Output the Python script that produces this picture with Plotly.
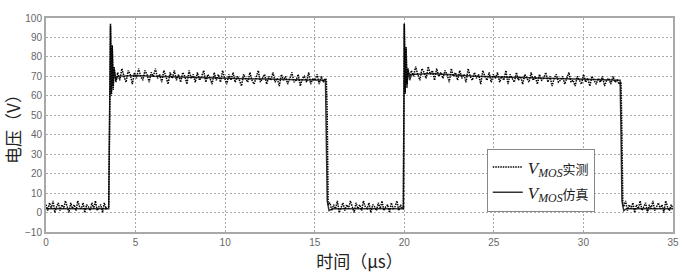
import numpy as np
import plotly.graph_objects as go

# ---- data ----
x_ticks = [0, 5, 10, 15, 20, 25, 30, 35]
y_ticks = [-10, 0, 10, 20, 30, 40, 50, 60, 70, 80, 90, 100]

# measured V_MOS: plateau segments (start, end, values) and edge points
low1_span = (0.0, 3.45)
low1_vals = [4, 1, 5, 2, 6, 0, 3, 5, 1, 4, 2, 6, 3, 0, 5, 2, 4, 1, 6, 3,
             2, 5, 0, 4, 3, 1, 5, 2, 6, 1, 3, 4, 0, 5, 2, 3]
edge1_t = [3.5, 3.55, 3.6, 3.65, 3.7, 3.75, 3.8, 3.9]
edge1_v = [3, 45, 97, 60, 86, 63, 75, 67]
high1_span = (4.0, 15.6)
high1_vals = [72, 68, 74, 70, 67, 73, 71, 66, 72, 69, 74, 70, 68, 73, 71, 67, 72, 70, 74, 69,
              71, 67, 73, 70, 66, 72, 69, 73, 68, 71, 67, 72, 70, 66, 73, 69, 71, 67, 72, 68,
              70, 73, 67, 71, 69, 66, 72, 68, 71, 67, 73, 69, 66, 71, 68, 72, 67, 70, 68, 65,
              71, 69, 67, 72, 68, 66, 70, 73, 67, 69, 71, 66, 70, 68, 72, 67, 69, 65, 71, 68,
              70, 66, 69, 72, 67, 68, 71, 65, 69, 70, 67, 72, 66, 69, 68, 71, 66, 70, 67, 69]
edge2_t = [15.65, 15.7, 15.75]
edge2_v = [68, 50, 4]
low2_span = (15.85, 19.9)
low2_vals = [5, 1, 4, 2, 6, 0, 3, 5, 1, 4, 2, 6, 3, 0, 5, 2, 4, 1, 6, 3,
             2, 5, 0, 4, 3, 1, 5, 2, 6, 1, 3, 4, 0, 5, 2, 3, 6, 1, 4, 2]
edge3_t = [19.95, 20.0, 20.05, 20.1, 20.15, 20.2, 20.3]
edge3_v = [2, 97, 62, 85, 66, 74, 70]
high2_span = (20.4, 32.0)
high2_vals = [73, 70, 75, 71, 68, 74, 72, 69, 75, 71, 73, 68, 74, 70, 72, 69, 73, 71, 67, 74,
              70, 72, 68, 73, 69, 71, 67, 74, 70, 68, 72, 69, 71, 66, 73, 70, 68, 72, 67, 71,
              69, 72, 67, 70, 68, 73, 66, 71, 69, 67, 72, 68, 70, 66, 71, 69, 67, 72, 68, 70,
              66, 71, 68, 69, 72, 67, 70, 65, 69, 71, 67, 68, 70, 66, 69, 72, 67, 68, 65, 70,
              68, 66, 71, 67, 69, 65, 70, 68, 66, 69, 67, 70, 65, 68, 69, 66, 70, 67, 68, 66]
edge4_t = [32.1, 32.15, 32.2]
edge4_v = [67, 40, 4]
low3_span = (32.25, 35.0)
low3_vals = [3, 6, 1, 4, 2, 5, 0, 4, 2, 6, 1, 3, 5, 0, 4, 2, 6, 1, 3, 5, 2, 4, 0, 6, 3, 1, 4, 2]

# simulated V_MOS
sim_t = [0, 3.5, 3.55, 3.6, 3.65, 3.7, 3.75, 3.8, 3.9, 4.0, 5, 6, 8, 10, 12, 14, 15.6,
         15.65, 15.7, 15.8, 16.0, 19.95, 20.0, 20.05, 20.1, 20.15, 20.2, 20.3, 20.4,
         21.5, 22.5, 24, 26, 28, 30, 32.05, 32.1, 32.15, 32.25, 32.4, 35]
sim_v = [2, 2, 50, 96, 61, 84, 65, 74, 68, 70, 70.5, 70, 69.5, 69, 68.5, 68.2, 68,
         40, 6, 1, 2, 2, 97, 61, 85, 64, 74, 68, 71,
         71.5, 71, 70, 69.5, 69, 68.5, 68, 40, 6, 1, 2, 2]

# ---- assemble measured trace ----
def seg(span, vals):
    return list(np.linspace(span[0], span[1], len(vals))), list(vals)

meas_t, meas_v = [], []
for part in [seg(low1_span, low1_vals), (edge1_t, edge1_v), seg(high1_span, high1_vals),
             (edge2_t, edge2_v), seg(low2_span, low2_vals), (edge3_t, edge3_v),
             seg(high2_span, high2_vals), (edge4_t, edge4_v), seg(low3_span, low3_vals)]:
    meas_t += list(part[0])
    meas_v += list(part[1])

legend_font = dict(family="Liberation Serif, Noto Sans CJK SC", size=17, color="#222")

fig = go.Figure()
fig.add_trace(go.Scatter(
    x=sim_t, y=sim_v, mode="lines",
    line=dict(color="#333", width=1.5),
    name="<i>V</i><sub><i>MOS</i></sub><span style='font-family:Noto Sans CJK SC;font-size:13px'>仿真</span>",
    legendrank=2))
fig.add_trace(go.Scatter(
    x=meas_t, y=meas_v, mode="lines",
    line=dict(color="#000", width=1.5, dash="1.5px,1px"),
    name="<i>V</i><sub><i>MOS</i></sub><span style='font-family:Noto Sans CJK SC;font-size:13px'>实测</span>",
    legendrank=1))

axis_common = dict(
    showline=True, linecolor="#a8a8a8", linewidth=2, mirror=True,
    showgrid=True, gridcolor="#aaaaaa", gridwidth=1, griddash="2px,2px",
    zeroline=False, ticks="",
    tickfont=dict(family="Liberation Sans", size=10, color="#666"),
)

fig.update_layout(
    width=692, height=275,
    margin=dict(l=46, r=19, t=16, b=38),
    paper_bgcolor="white", plot_bgcolor="white",
    showlegend=True,
    legend=dict(
        x=0.703, y=0.39, xanchor="left", yanchor="top",
        bgcolor="white", bordercolor="#888", borderwidth=1,
        font=legend_font, itemwidth=30, tracegroupgap=0,
    ),
    xaxis=dict(axis_common, range=[0, 35], tickvals=x_ticks,
               title=dict(text="时间（μs）", standoff=3,
                          font=dict(family="Noto Sans CJK SC", size=17, color="#222"))),
    yaxis=dict(axis_common, range=[-10, 100], tickvals=y_ticks,
               title=dict(text="电压（V）", standoff=0,
                          font=dict(family="Noto Sans CJK SC", size=17, color="#222"))),
)

fig.write_html("out.html")
